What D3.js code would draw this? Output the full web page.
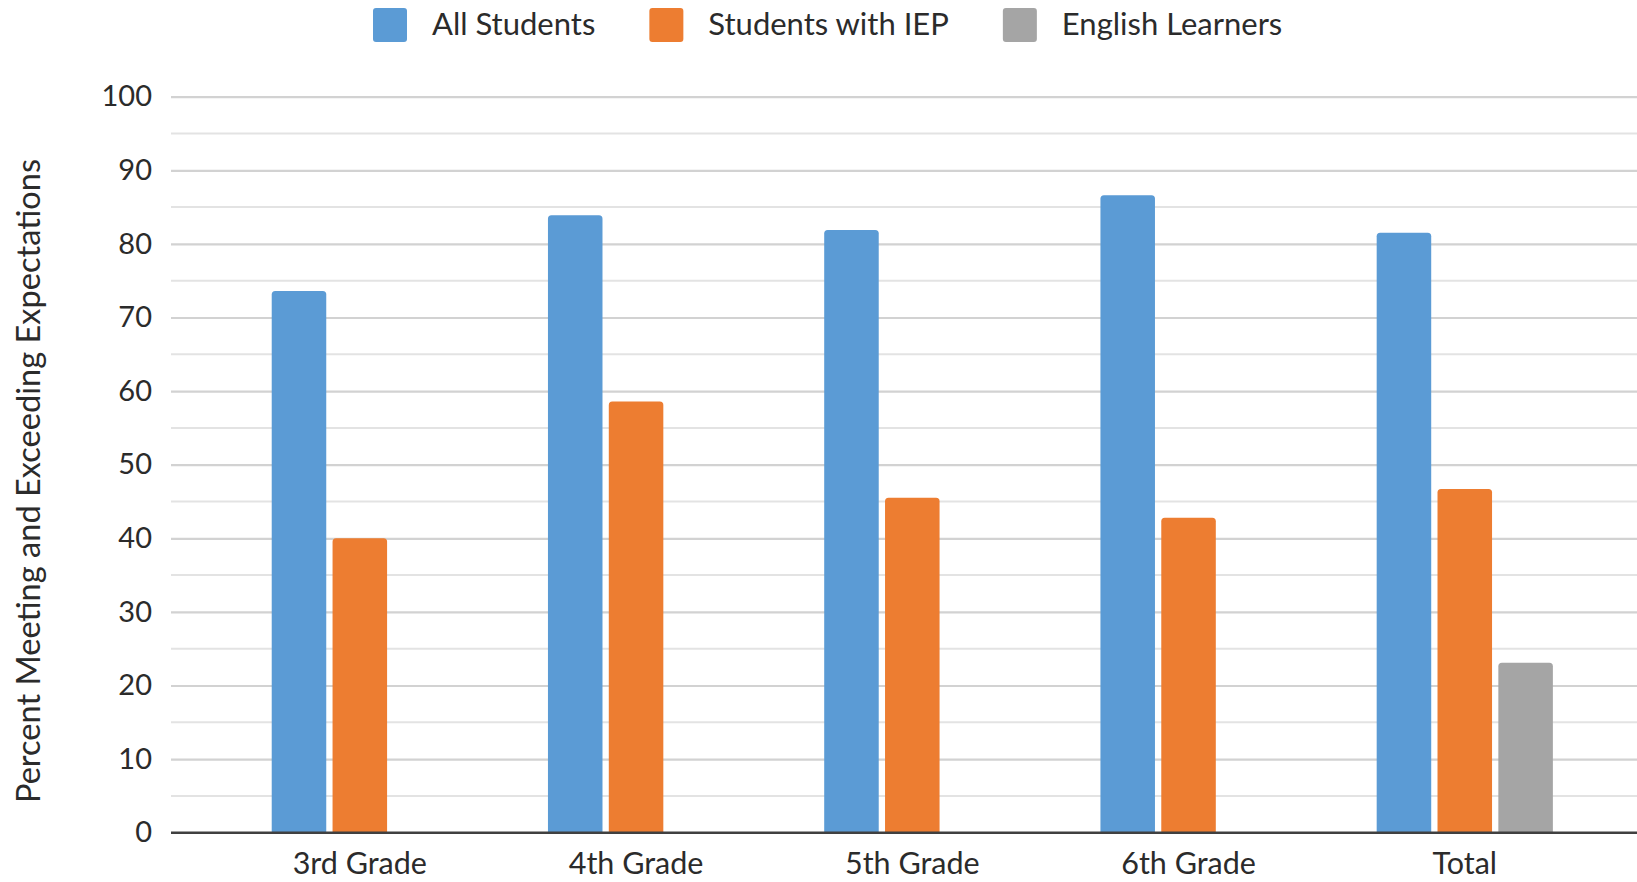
<!DOCTYPE html>
<html>
<head>
<meta charset="utf-8">
<script src="https://cdn.jsdelivr.net/npm/d3@7"></script>
<style>
  html, body { margin: 0; padding: 0; background: #fff; }
  svg { display: block; }
  text { font-family: Lato, "Open Sans", sans-serif; fill: #2b2b2b; }
</style>
</head>
<body>
<svg id="chart" width="1637" height="882"></svg>
<script>
// Percent of students meeting and exceeding expectations, by grade
const categories = ["3rd Grade", "4th Grade", "5th Grade", "6th Grade", "Total"];
const seriesNames = ["All Students", "Students with IEP", "English Learners"];
const allStudents = [73.6, 83.9, 81.9, 86.6, 81.5];
const studentsWithIEP = [40.0, 58.6, 45.5, 42.8, 46.7];
const englishLearners = [null, null, null, null, 23.1];
const majorTicks = [0, 10, 20, 30, 40, 50, 60, 70, 80, 90, 100];
const minorTicks = [5, 15, 25, 35, 45, 55, 65, 75, 85, 95];
const yTitle = "Percent Meeting and Exceeding Expectations";

const seriesValues = [allStudents, studentsWithIEP, englishLearners];
const colors = ["#5b9bd5", "#ed7d31", "#a5a5a5"];

const svg = d3.select("#chart");

const plotLeft = 171, plotRight = 1637;
const y = d3.scaleLinear().domain([0, 100]).range([832.7, 96.7]);
const x = d3.scaleBand().domain(categories).range([221.7, 1602.9]).paddingInner(0).paddingOuter(0);
const groupWidth = 176.2;
const xs = d3.scaleBand().domain(seriesNames).range([0, groupWidth]).paddingInner(0.1036).paddingOuter(0);

// minor gridlines
svg.append("g").selectAll("line").data(minorTicks).join("line")
  .attr("x1", plotLeft).attr("x2", plotRight)
  .attr("y1", d => y(d)).attr("y2", d => y(d))
  .attr("stroke", "#e3e3e3").attr("stroke-width", 2);

// major gridlines and value labels
const yAxis = d3.axisLeft(y).tickValues(majorTicks).tickSize(-(plotRight - plotLeft)).tickPadding(19);
const gy = svg.append("g").attr("transform", `translate(${plotLeft},0)`).call(yAxis);
gy.select(".domain").remove();
gy.selectAll(".tick line").attr("stroke", "#d2d2d2").attr("stroke-width", 2.2);
gy.selectAll(".tick text").attr("font-size", 29).attr("fill", "#2b2b2b")
  .style("font-family", "Lato, 'Open Sans', sans-serif");
gy.selectAll(".tick").filter(d => d === 0).select("line").remove();

// bars with slightly rounded tops
function barPath(x0, w, yTop, yBase, r) {
  r = Math.min(r, w / 2, (yBase - yTop) / 2);
  return `M${x0},${yBase}V${yTop + r}Q${x0},${yTop} ${x0 + r},${yTop}` +
         `H${x0 + w - r}Q${x0 + w},${yTop} ${x0 + w},${yTop + r}V${yBase}Z`;
}

const bars = [];
categories.forEach((c, i) => {
  seriesNames.forEach((s, j) => {
    const v = seriesValues[j][i];
    if (v !== null && v !== undefined) bars.push({ c, s, v, j });
  });
});

svg.append("g").selectAll("path").data(bars).join("path")
  .attr("d", d => {
    const cx = x(d.c) + x.bandwidth() / 2 - groupWidth / 2 + xs(d.s);
    return barPath(cx, xs.bandwidth(), y(d.v), y(0), 3.5);
  })
  .attr("fill", d => colors[d.j]);

// category axis
svg.append("line")
  .attr("x1", plotLeft).attr("x2", plotRight)
  .attr("y1", y(0)).attr("y2", y(0))
  .attr("stroke", "#404040").attr("stroke-width", 2.6);

svg.append("g").selectAll("text").data(categories).join("text")
  .attr("x", d => x(d) + x.bandwidth() / 2)
  .attr("y", 874)
  .attr("text-anchor", "middle")
  .attr("font-size", 30.5)
  .text(d => d);

// axis title
svg.append("text")
  .attr("transform", `translate(40,481) rotate(-90)`)
  .attr("text-anchor", "middle")
  .attr("font-size", 32.6)
  .text(yTitle);

// legend
const legend = svg.append("g");
let lx = 373;
seriesNames.forEach((s, j) => {
  legend.append("rect")
    .attr("x", lx).attr("y", 8).attr("width", 34).attr("height", 34)
    .attr("rx", 3).attr("fill", colors[j]);
  const t = legend.append("text")
    .attr("x", lx + 59).attr("y", 35)
    .attr("font-size", 31)
    .text(s);
  lx += 59 + t.node().getComputedTextLength() + 54;
});
</script>
</body>
</html>
